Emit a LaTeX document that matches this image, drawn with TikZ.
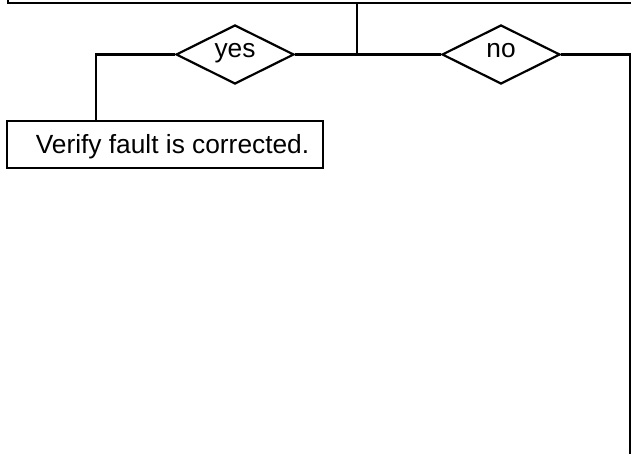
\documentclass[tikz,border=0pt]{standalone}
\usepackage{fontspec}
\setmainfont{Liberation Sans}
\usetikzlibrary{shapes.geometric}
\begin{document}
\begin{tikzpicture}[x=1pt,y=-1pt,
  line width=2.2pt,
  every node/.style={font=\fontsize{26.3}{30}\selectfont},
  choice/.style={draw, diamond, aspect=2, minimum width=118pt, minimum height=59pt,
    inner sep=0pt, text height=7pt, text depth=0pt},
  stepbox/.style={draw, rectangle, minimum width=316pt, minimum height=47pt,
    inner xsep=0pt, inner ysep=0pt, text height=18.8pt, text depth=0pt},
  frame/.style={draw, rectangle, minimum width=800pt, minimum height=200pt, inner sep=0pt}]
  \useasboundingbox (0,0) rectangle (631,454);
  \clip (0,0) rectangle (631,454);

  % preceding step, only its lower left part is in view
  \node[frame, anchor=south west] (top) at (7,4) {};

  % decision branches
  \coordinate (j) at (357,54.5);
  \node[choice] (yes) at (235,54.5) {yes};
  \node[choice] (no) at (501,54.5) {no};
  \node[stepbox] (verify) at (165,144.5) {\hspace*{15pt}Verify fault is corrected.};
  \coordinate (down) at (630,460);

  % connectors
  \draw (top.south -| j) -- (j);
  \draw (yes.east) -- (no.west);
  \draw (yes.west) -| (verify.north -| 96,0);
  \draw (no.east) -| (down);
\end{tikzpicture}
\end{document}
